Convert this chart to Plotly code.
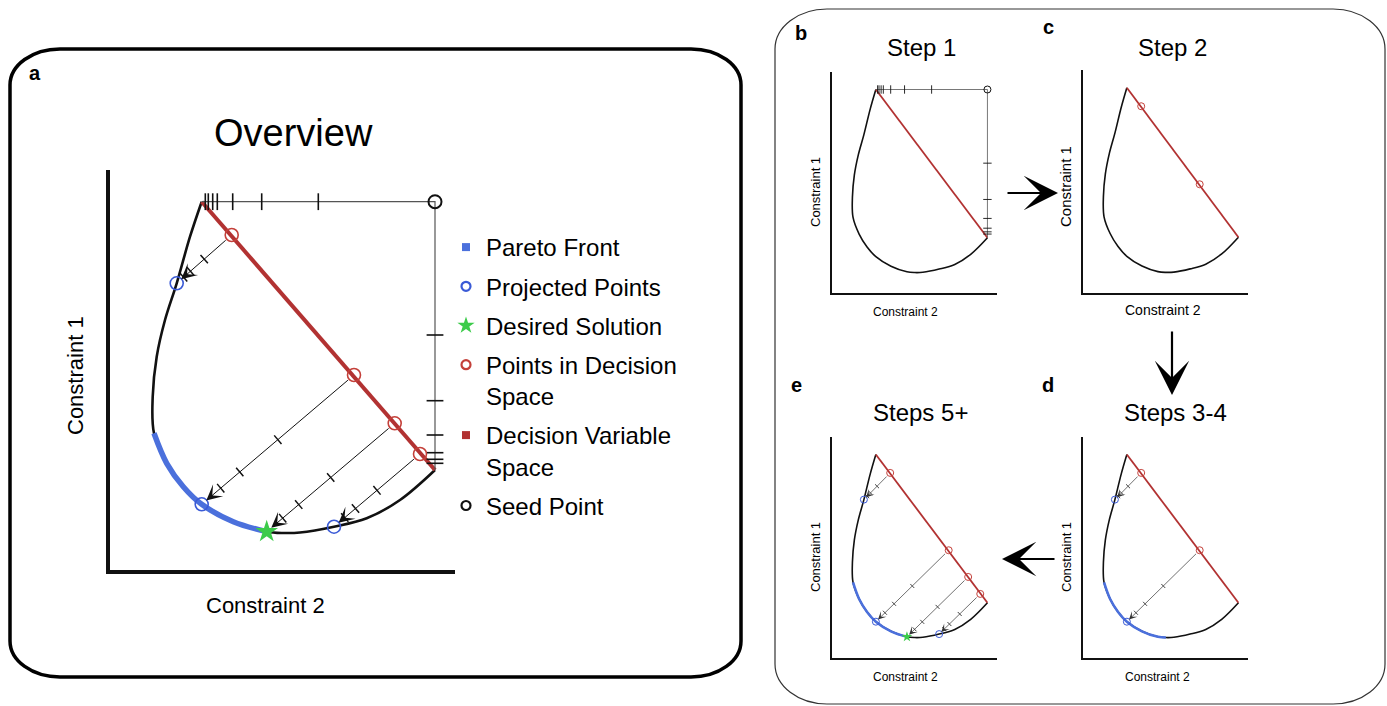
import math
import plotly.graph_objects as go

W, H = 1387, 706
FONT = "Liberation Sans, Arial, sans-serif"

# ---------------- data (constraint space, shared by every panel) ----------------
outline_x = [91.7, 80, 66.7, 55, 46.7, 42.7, 44, 56.7, 73.3, 91.7, 123.3, 156.7, 173.3, 190, 224, 256.7, 290, 325]
outline_y = [368.3, 333.3, 286.7, 250, 213.3, 173.3, 136.7, 106.7, 83.3, 65.7, 48.3, 38.3, 37, 37.5, 43.3, 51.7, 70, 100]
pareto_start = 6
pareto_end_final = 11
pareto_end_steps34 = 12

decision_x = [91.7, 325]
decision_y = [368.3, 100]

decision_pts_x = [121.7, 244, 284.7, 310]
decision_pts_y = [335, 195, 146.7, 116]

projected_x = [66.7, 91.7, 156.7, 224]
projected_y = [286.7, 65.7, 38.3, 43.3]
desired_idx = 2

seed_x = [325]
seed_y = [368.3]
search_path_x = [91.7, 325, 325]
search_path_y = [368.3, 368.3, 100]
top_tick_x = [208.3, 151.7, 122.7, 107.3, 102.7, 98.3, 95.3]
right_tick_y = [235, 169.3, 135, 117.3, 110.7, 106.7]
proj_tick_fracs = [0.5, 0.75, 0.875]

legend_names = ["Pareto Front", "Projected Points", "Desired Solution",
                "Points in Decision<br>Space", "Decision Variable<br>Space", "Seed Point"]

XR = [0, 345]
YR = [0, 400]

BLACK = "#111111"
RED_LINE = "#B23232"
RED_PT = "#C4403A"
BLUE_LINE = "#4B70DC"
BLUE_PT = "#3A5AD6"
GREEN = "#3CCB4A"
GRAY = "#555555"

# panel boxes in pixels: left, top, right, bottom
panels = [
    dict(key="a", n=1, box=(110, 170, 455, 570), big=True, search=True, pareto=pareto_end_final,
         red=[0, 1, 2, 3], arrows=[0, 1, 2, 3], blue=[0, 1, 3], star=True),
    dict(key="b", n=2, box=(832, 72, 997, 293), big=False, search=True, pareto=None,
         red=[], arrows=[], blue=[], star=False),
    dict(key="c", n=3, box=(1083, 70, 1248, 293), big=False, search=False, pareto=None,
         red=[0, 1], arrows=[], blue=[], star=False),
    dict(key="d", n=4, box=(1083, 437, 1248, 658), big=False, search=False, pareto=pareto_end_steps34,
         red=[0, 1], arrows=[0, 1], blue=[0, 1], star=False),
    dict(key="e", n=5, box=(832, 437, 997, 658), big=False, search=False, pareto=pareto_end_final,
         red=[0, 1, 2, 3], arrows=[0, 1, 2, 3], blue=[0, 1, 3], star=True),
]

fig = go.Figure()
annotations = []
layout_axes = {}

for p in panels:
    l, t, r, b = p["box"]
    sfx = "" if p["n"] == 1 else str(p["n"])
    xa, ya = "x" + sfx, "y" + sfx
    big = p["big"]
    sx = (r - l) / (XR[1] - XR[0])
    sy = (b - t) / (YR[1] - YR[0])
    alw = 4 if big else 2.2
    layout_axes["xaxis" + sfx] = dict(domain=[l / W, r / W], range=XR, anchor=ya,
                                      showgrid=False, zeroline=False, showticklabels=False, ticks="",
                                      showline=True, linecolor=BLACK, linewidth=alw, fixedrange=True)
    layout_axes["yaxis" + sfx] = dict(domain=[1 - b / H, 1 - t / H], range=YR, anchor=xa,
                                      showgrid=False, zeroline=False, showticklabels=False, ticks="",
                                      showline=True, linecolor=BLACK, linewidth=alw, fixedrange=True)

    olw = 2.6 if big else 1.6
    plw = 5.5 if big else 2.6
    rlw = 4 if big else 1.8
    msz = 13 if big else 7
    mlw = 1.6 if big else 1.0

    common = dict(xaxis=xa, yaxis=ya, showlegend=False, hoverinfo="skip", cliponaxis=False)

    # feasible region outline
    fig.add_trace(go.Scatter(x=outline_x, y=outline_y, mode="lines",
                             line=dict(color=BLACK, width=olw, shape="spline", smoothing=1.0), **common))
    # Pareto front
    if p["pareto"] is not None:
        fig.add_trace(go.Scatter(x=outline_x[pareto_start:p["pareto"] + 1],
                                 y=outline_y[pareto_start:p["pareto"] + 1], mode="lines",
                                 line=dict(color=BLUE_LINE, width=plw, shape="spline", smoothing=1.0), **common))
    # decision variable space
    fig.add_trace(go.Scatter(x=decision_x, y=decision_y, mode="lines",
                             line=dict(color=RED_LINE, width=rlw), **common))
    # search lines from the seed point
    if p["search"]:
        fig.add_trace(go.Scatter(x=search_path_x, y=search_path_y, mode="lines",
                                 line=dict(color=GRAY, width=1.2 if big else 0.8), **common))
        tsz = 12 if big else 6
        tlw = 1.6 if big else 0.9
        fig.add_trace(go.Scatter(x=top_tick_x, y=[seed_y[0]] * len(top_tick_x), mode="markers",
                                 marker=dict(symbol="line-ns", size=tsz, color=BLACK,
                                             line=dict(color=BLACK, width=tlw)), **common))
        fig.add_trace(go.Scatter(x=[seed_x[0]] * len(right_tick_y), y=right_tick_y, mode="markers",
                                 marker=dict(symbol="line-ew", size=tsz, color=BLACK,
                                             line=dict(color=BLACK, width=tlw)), **common))
        fig.add_trace(go.Scatter(x=seed_x, y=seed_y, mode="markers",
                                 marker=dict(symbol="circle-open", size=13 if big else 7, color=BLACK,
                                             line=dict(color=BLACK, width=2 if big else 1)), **common))
    # projection lines (arrows) + tick marks
    if p["arrows"]:
        txs, tys, angs = [], [], []
        for i in p["arrows"]:
            x0, y0 = decision_pts_x[i], decision_pts_y[i]
            x1, y1 = projected_x[i], projected_y[i]
            ang = math.degrees(math.atan2(-(y1 - y0) * sy, (x1 - x0) * sx))
            for f in proj_tick_fracs:
                txs.append(x0 + f * (x1 - x0))
                tys.append(y0 + f * (y1 - y0))
                angs.append(ang)
            annotations.append(dict(x=x1, y=y1, ax=x0, ay=y0, xref=xa, yref=ya, axref=xa, ayref=ya,
                                    text="", showarrow=True, arrowhead=3,
                                    arrowsize=2.6 if big else 1.9, arrowwidth=1.0 if big else 0.7,
                                    arrowcolor=BLACK if big else "#333333",
                                    standoff=6 if big else 3, startstandoff=6 if big else 3))
        fig.add_trace(go.Scatter(x=txs, y=tys, mode="markers",
                                 marker=dict(symbol="line-ns", size=8 if big else 4, angle=angs, color=BLACK,
                                             line=dict(color=BLACK, width=1.5 if big else 0.8)), **common))
    # points in decision space
    if p["red"]:
        fig.add_trace(go.Scatter(x=[decision_pts_x[i] for i in p["red"]], y=[decision_pts_y[i] for i in p["red"]],
                                 mode="markers",
                                 marker=dict(symbol="circle-open", size=msz, color=RED_PT,
                                             line=dict(color=RED_PT, width=mlw)), **common))
    # projected points
    if p["blue"]:
        fig.add_trace(go.Scatter(x=[projected_x[i] for i in p["blue"]], y=[projected_y[i] for i in p["blue"]],
                                 mode="markers",
                                 marker=dict(symbol="circle-open", size=msz, color=BLUE_PT,
                                             line=dict(color=BLUE_PT, width=mlw)), **common))
    # desired solution
    if p["star"]:
        fig.add_trace(go.Scatter(x=[projected_x[desired_idx]], y=[projected_y[desired_idx]], mode="markers",
                                 marker=dict(symbol="star", size=17 if big else 8, color=GREEN,
                                             line=dict(width=0)), **common))

# ---------------- legend proxies ----------------
legend_styles = [
    dict(symbol="square", size=8, color=BLUE_LINE, line=dict(width=0)),
    dict(symbol="circle-open", size=9, color=BLUE_PT, line=dict(color=BLUE_PT, width=2.2)),
    dict(symbol="star", size=13, color=GREEN, line=dict(width=0)),
    dict(symbol="circle-open", size=9, color=RED_PT, line=dict(color=RED_PT, width=2.2)),
    dict(symbol="square", size=8, color=RED_LINE, line=dict(width=0)),
    dict(symbol="circle-open", size=9, color=BLACK, line=dict(color=BLACK, width=2.2)),
]
for k, (name, st) in enumerate(zip(legend_names, legend_styles)):
    fig.add_trace(go.Scatter(x=[None], y=[None], mode="markers", name=name, marker=st,
                             legendgroup=f"g{k}", showlegend=True, xaxis="x", yaxis="y"))

# ---------------- text ----------------
def txt(s, x, y, size, bold=False, angle=0):
    annotations.append(dict(text=f"<b>{s}</b>" if bold else s, x=x / W, y=1 - y / H, xref="paper", yref="paper",
                            showarrow=False, xanchor="center", yanchor="middle", textangle=angle,
                            font=dict(family=FONT, size=size, color="black")))

txt("Overview", 293, 133, 38)
txt("Step 1", 921, 47, 24)
txt("Step 2", 1172, 47, 24)
txt("Steps 5+", 920, 413, 24)
txt("Steps 3-4", 1175, 413, 24)

txt("a", 35, 73, 20, bold=True)
txt("b", 801, 33, 20, bold=True)
txt("c", 1048, 27, 20, bold=True)
txt("e", 796, 385, 20, bold=True)
txt("d", 1048, 385, 20, bold=True)

txt("Constraint 2", 265, 605, 22)
txt("Constraint 1", 75, 376, 22, angle=-90)
txt("Constraint 2", 905, 312, 12)
txt("Constraint 1", 815, 192, 13, angle=-90)
txt("Constraint 2", 1163, 310, 14)
txt("Constraint 1", 1066, 187, 15, angle=-90)
txt("Constraint 2", 905, 677, 12)
txt("Constraint 1", 815, 557, 13, angle=-90)
txt("Constraint 2", 1157, 677, 12)
txt("Constraint 1", 1066, 557, 13, angle=-90)

# flow arrows between step panels
def flow_arrow(tipx, tipy, tailx, taily):
    annotations.append(dict(x=tipx / W, y=1 - tipy / H, xref="paper", yref="paper",
                            ax=tailx - tipx, ay=taily - tipy, axref="pixel", ayref="pixel",
                            text="", showarrow=True, arrowhead=3, arrowsize=2.6, arrowwidth=2.2,
                            arrowcolor="black"))

flow_arrow(1058, 193, 1006, 193)
flow_arrow(1172, 395, 1172, 330)
flow_arrow(1002, 559, 1056, 559)

# ---------------- rounded frames ----------------
def rounded_box(x0, y0, x1, y1, rx, ry):
    k = 0.5523
    def P(x, y):
        return f"{x / W:.5f},{1 - y / H:.5f}"
    return (f"M {P(x0 + rx, y0)} L {P(x1 - rx, y0)} "
            f"C {P(x1 - rx + k * rx, y0)} {P(x1, y0 + ry - k * ry)} {P(x1, y0 + ry)} "
            f"L {P(x1, y1 - ry)} "
            f"C {P(x1, y1 - ry + k * ry)} {P(x1 - rx + k * rx, y1)} {P(x1 - rx, y1)} "
            f"L {P(x0 + rx, y1)} "
            f"C {P(x0 + rx - k * rx, y1)} {P(x0, y1 - ry + k * ry)} {P(x0, y1 - ry)} "
            f"L {P(x0, y0 + ry)} "
            f"C {P(x0, y0 + ry - k * ry)} {P(x0 + rx - k * rx, y0)} {P(x0 + rx, y0)} Z")

shapes = [
    dict(type="path", xref="paper", yref="paper", path=rounded_box(10, 49, 741, 677, 50, 36),
         line=dict(color="black", width=3.5), layer="below"),
    dict(type="path", xref="paper", yref="paper", path=rounded_box(775, 9, 1385, 704, 52, 40),
         line=dict(color="#333333", width=1.2), layer="below"),
]

fig.update_layout(
    width=W, height=H, margin=dict(l=0, r=0, t=0, b=0),
    paper_bgcolor="white", plot_bgcolor="rgba(0,0,0,0)",
    font=dict(family=FONT, color="black"),
    showlegend=True,
    legend=dict(x=446 / W, y=1 - 225 / H, xanchor="left", yanchor="top",
                font=dict(family=FONT, size=24, color="black"),
                traceorder="grouped", tracegroupgap=5, valign="top",
                bgcolor="rgba(0,0,0,0)", borderwidth=0, itemclick=False, itemdoubleclick=False),
    annotations=annotations, shapes=shapes,
    **layout_axes,
)

fig.write_html("out.html", config={"displayModeBar": False})
